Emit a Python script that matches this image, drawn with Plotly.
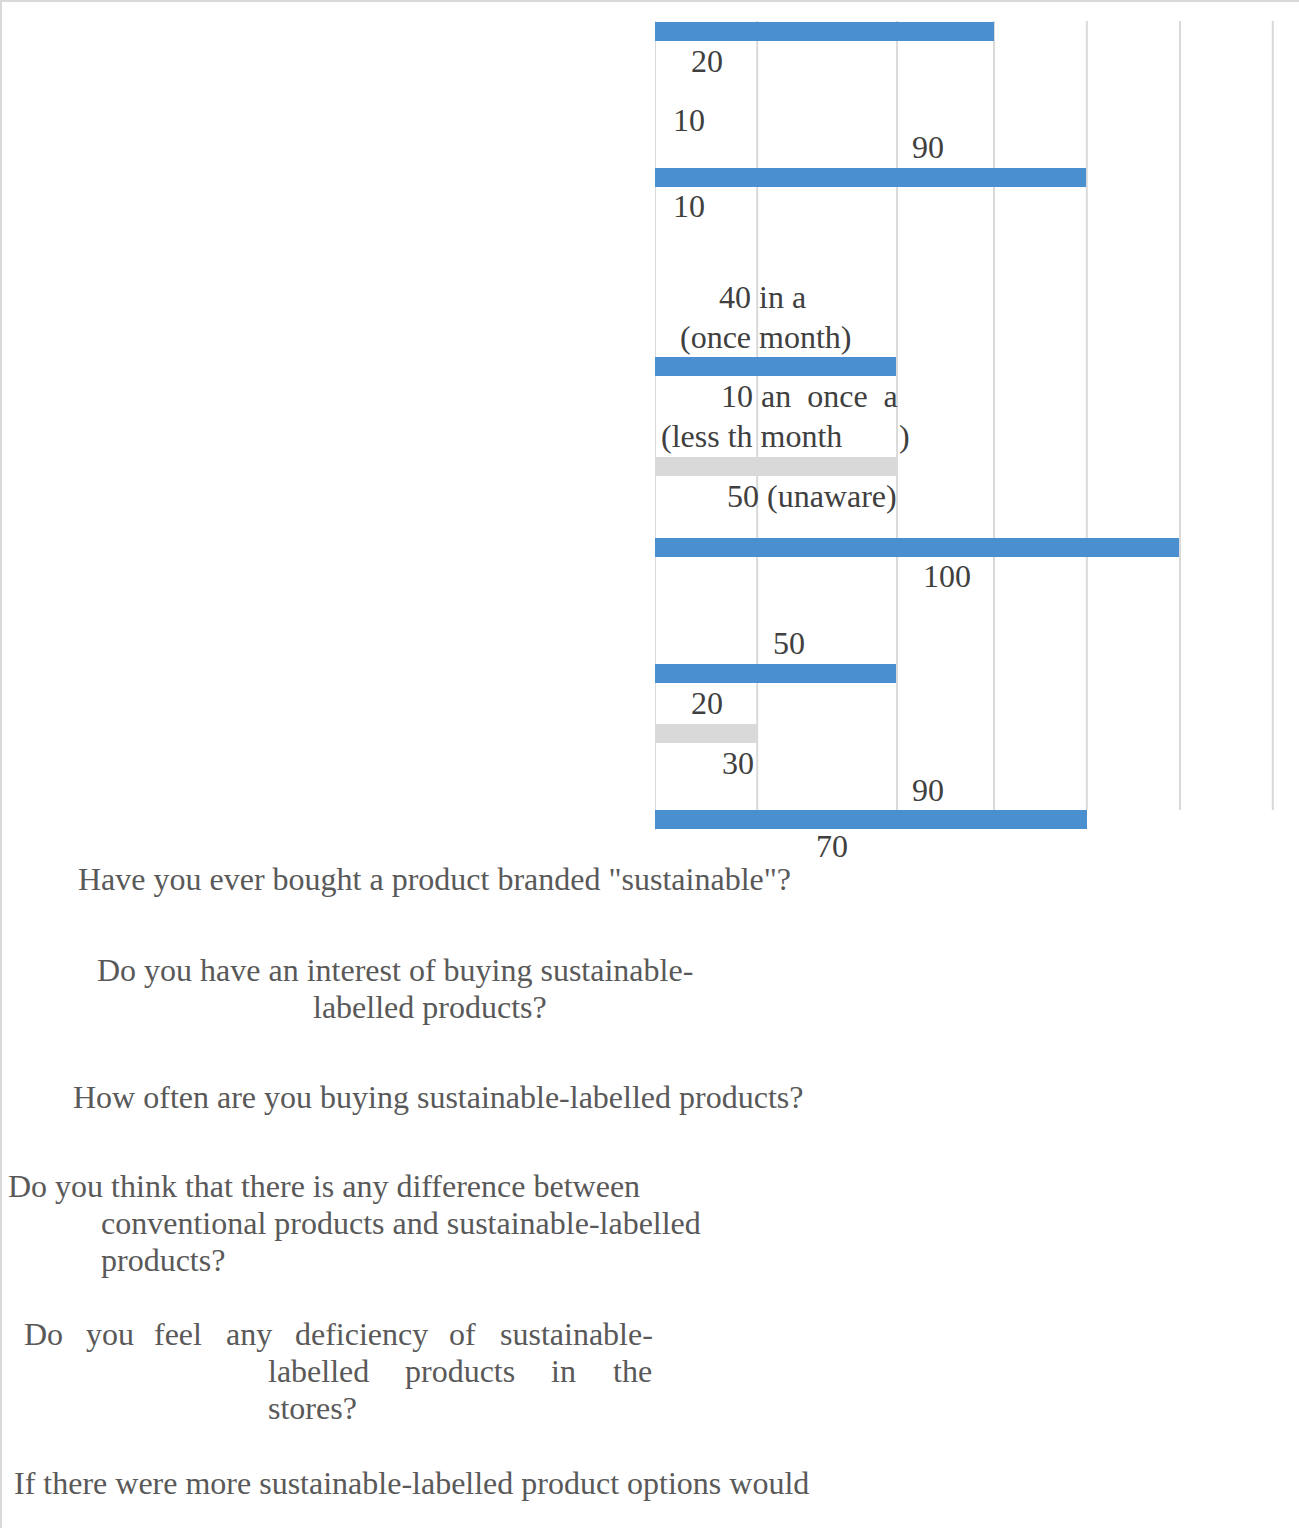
import plotly.graph_objects as go

W, H = 1299, 1528

# ---------------- data ----------------
row_slots = [1.15, 15.75, 34.65, 44.65, 52.75, 65.35, 71.35, 79.95]
bar_values = [64.7, 82.3, 46.0, 46.0, 100.0, 46.0, 19.5, 82.4]
bar_kinds = ["blue", "blue", "blue", "grey", "blue", "blue", "grey", "blue"]
grid_values = [19.5, 46.2, 64.7, 82.4, 100.2, 117.9]

value_labels = ["20", "10", "90", "10", "40 in a", "(once month)",
                "10 an\u00a0 once\u00a0 a", "(less th month", ")",
                "50 (unaware)", "100", "50", "20", "30", "90", "70"]
value_label_x = [6.68, 3.24, 48.85, 3.24, 12.02, 4.58, 12.40, 0.95, 46.37,
                 13.55, 50.95, 22.33, 6.68, 12.60, 48.85, 30.53]
value_label_y = [4.1, 10.0, 12.7, 18.6, 27.7, 31.7, 37.6, 41.6, 41.6,
                 47.6, 55.6, 62.3, 68.3, 74.3, 77.0, 82.6]

# question labels (each displayed line / word with its left edge and centre line, px)
question_lines = [
    ('Have you ever bought a product branded "sustainable"?', 77, 879),
    ("Do you have an interest of buying sustainable-", 96, 970),
    ("labelled products?", 312, 1007),
    ("How often are you buying sustainable-labelled products?", 72, 1097),
    ("Do you think that there is any difference between", 7, 1186),
    ("conventional products and sustainable-labelled", 100, 1223),
    ("products?", 100, 1260),
    ("Do", 23, 1334), ("you", 85, 1334), ("feel", 153, 1334), ("any", 225, 1334),
    ("deficiency", 294, 1334), ("of", 448, 1334), ("sustainable-", 499, 1334),
    ("labelled", 267, 1371), ("products", 404, 1371), ("in", 550, 1371), ("the", 612, 1371),
    ("stores?", 267, 1408),
    ("If there were more sustainable-labelled product options would", 13, 1483),
]

# ---------------- style ----------------
BLUE = "#4a8fd0"
GREY = "#d9d9d9"
GRID = "#d9d9d9"
FONT = "Liberation Serif, Times New Roman, serif"
colors = [BLUE if k == "blue" else GREY for k in bar_kinds]

PLOT_LEFT, PLOT_TOP = 655, 20
Y_SPAN = 85.0                      # 10 px per unit
PLOT_BOTTOM = PLOT_TOP + Y_SPAN * 10

fig = go.Figure()
fig.add_trace(go.Bar(
    orientation="h", x=bar_values, y=row_slots, width=1.9,
    marker=dict(color=colors, line=dict(width=0)),
    hoverinfo="skip", showlegend=False,
))

shapes = []
# axis line on the left of the bars
shapes.append(dict(type="line", xref="x", yref="y", x0=0, x1=0, y0=0.1, y1=81.0,
                   line=dict(color=GRID, width=2), layer="below"))
for gv in grid_values:
    shapes.append(dict(type="line", xref="x", yref="y", x0=gv, x1=gv, y0=0.1, y1=79.0,
                       line=dict(color=GRID, width=2), layer="below"))
# page frame (top and left edge)
shapes.append(dict(type="line", xref="paper", yref="paper", x0=0, x1=1, y0=1 - 1 / H, y1=1 - 1 / H,
                   line=dict(color=GRID, width=2)))
shapes.append(dict(type="line", xref="paper", yref="paper", x0=1 / W, x1=1 / W, y0=0, y1=1,
                   line=dict(color=GRID, width=2)))

annotations = []
for t, xv, yv in zip(value_labels, value_label_x, value_label_y):
    annotations.append(dict(text=t, x=xv, y=yv, xref="x", yref="y", xanchor="left",
                            yanchor="middle", showarrow=False, borderpad=0,
                            font=dict(family=FONT, size=32, color="#404040")))
for t, lx, cy in question_lines:
    annotations.append(dict(text=t, x=lx / W, y=1 - cy / H, xref="paper", yref="paper",
                            xanchor="left", yanchor="middle", showarrow=False, borderpad=0,
                            font=dict(family=FONT, size=32, color="#595959")))

fig.update_layout(
    width=W, height=H,
    margin=dict(l=0, r=0, t=0, b=0),
    paper_bgcolor="white", plot_bgcolor="rgba(0,0,0,0)",
    xaxis=dict(domain=[PLOT_LEFT / W, 1], range=[0, (W - PLOT_LEFT) / 5.24],
               visible=False, showgrid=False, zeroline=False, fixedrange=True),
    yaxis=dict(domain=[1 - PLOT_BOTTOM / H, 1 - PLOT_TOP / H], range=[Y_SPAN, 0],
               visible=False, showgrid=False, zeroline=False, fixedrange=True),
    bargap=0,
    shapes=shapes,
    annotations=annotations,
    showlegend=False,
)

fig.write_html("out.html", config={"displayModeBar": False},
               post_script="document.body.style.margin='0';document.body.style.overflow='hidden';")
